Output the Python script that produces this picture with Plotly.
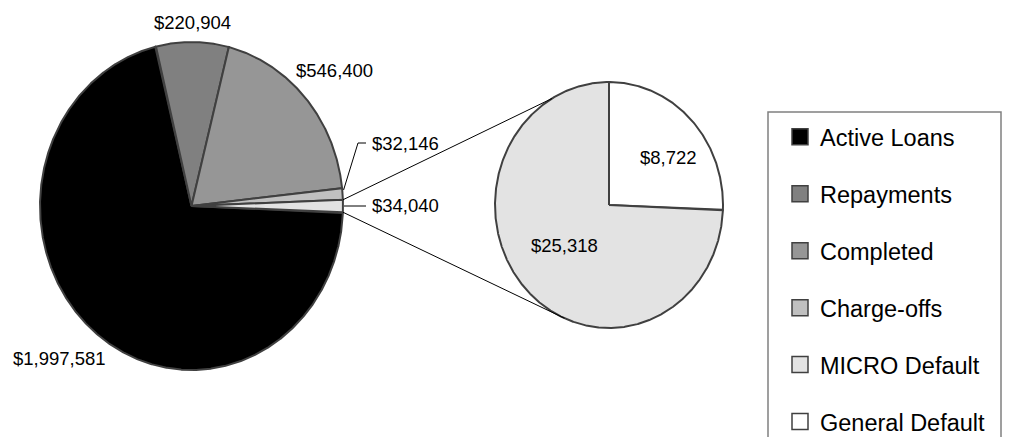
import numpy as np
import plotly.graph_objects as go

# ---------------- data ----------------
main_labels = ["Active Loans", "Repayments", "Completed", "Charge-offs", "Other"]
main_values = [1997581, 220904, 546400, 32146]
sub_labels = ["General Default", "MICRO Default"]
sub_values = [8722, 25318]
legend_labels = ["Active Loans", "Repayments", "Completed", "Charge-offs",
                 "MICRO Default", "General Default"]

main_values = main_values + [sum(sub_values)]   # "Other" slice = second pie total

# ---------------- styles / layout ----------------
W, H = 1011, 445                    # window size
OFF = 8                             # default page (body) margin of the written html
FW, FH = W - 2 * OFF, H - 2 * OFF   # figure size so the page does not overflow
colors = {
    "Active Loans": "#000000",
    "Repayments": "#808080",
    "Completed": "#969696",
    "Charge-offs": "#C0C0C0",
    "Other": "#E3E3E3",
    "MICRO Default": "#E3E3E3",
    "General Default": "#FFFFFF",
}
EDGE = "#404040"
FONT = "Liberation Sans, Arial, sans-serif"

MAIN = dict(cx=191.5, cy=206.0, rx=151.5, ry=164.0)
SUB = dict(cx=609.0, cy=205.0, rx=114.0, ry=123.0)

# label anchor positions (window pixels) per slice
label_pos = {
    "Active Loans": (59.5, 358, "center"),
    "Repayments": (192, 22, "center"),
    "Completed": (334, 70, "center"),
    "Charge-offs": (370, 143, "left"),
    "Other": (370, 205, "left"),
    "General Default": (668, 157, "center"),
    "MICRO Default": (564, 245, "center"),
}


def pt(p, ang, f=1.0):
    a = np.radians(ang)
    return p["cx"] + f * p["rx"] * np.sin(a), p["cy"] - f * p["ry"] * np.cos(a)


def wedge(p, a0, a1):
    n = max(int(abs(a1 - a0) * 4), 8)
    angs = np.linspace(a0, a1, n)
    xs, ys = pt(p, angs)
    xs = np.concatenate([[p["cx"]], xs, [p["cx"]]])
    ys = np.concatenate([[p["cy"]], ys, [p["cy"]]])
    return xs, ys


def spans(values, start):
    tot = float(sum(values))
    out, a = [], start
    for v in values:
        s = 360.0 * v / tot
        out.append((a, a + s))
        a += s
    return out


fig = go.Figure()

# main pie: "Other" slice centred on 3 o'clock
tot_main = float(sum(main_values))
other_span = 360.0 * main_values[-1] / tot_main
main_spans = spans(main_values, 90.0 + other_span / 2.0)
sub_spans = spans(sub_values, 0.0)

for lab, val, (a0, a1) in zip(main_labels, main_values, main_spans):
    xs, ys = wedge(MAIN, a0, a1)
    fig.add_trace(go.Scatter(
        x=xs, y=ys, mode="lines", fill="toself", fillcolor=colors[lab],
        line=dict(color=EDGE, width=2), showlegend=False,
        legendgroup=lab if lab != "Other" else None,
        hoverinfo="text", text=f"{lab}: ${val:,}", hoveron="fills"))

for lab, val, (a0, a1) in zip(sub_labels, sub_values, sub_spans):
    xs, ys = wedge(SUB, a0, a1)
    fig.add_trace(go.Scatter(
        x=xs, y=ys, mode="lines", fill="toself", fillcolor=colors[lab],
        line=dict(color=EDGE, width=2), showlegend=False, legendgroup=lab,
        hoverinfo="text", text=f"{lab}: ${val:,}", hoveron="fills"))

# connector lines between the "Other" slice and the second pie
oa0, oa1 = main_spans[-1]
p_up = pt(MAIN, oa0)
p_dn = pt(MAIN, oa1)
q_up = pt(SUB, 330.0)
q_dn = pt(SUB, 203.0)
for (x0, y0), (x1, y1) in [(p_up, q_up), (p_dn, q_dn)]:
    fig.add_trace(go.Scatter(x=[x0, x1], y=[y0, y1], mode="lines",
                             line=dict(color="black", width=1),
                             showlegend=False, hoverinfo="skip"))

# leader lines for the two thin slices
ca0, ca1 = main_spans[3]
cx0, cy0 = pt(MAIN, (ca0 + ca1) / 2)
fig.add_trace(go.Scatter(x=[cx0 + 1, 358, 366], y=[cy0 - 4, 143, 143], mode="lines",
                         line=dict(color="black", width=1), showlegend=False,
                         hoverinfo="skip"))
ox0, oy0 = pt(MAIN, (oa0 + oa1) / 2)
fig.add_trace(go.Scatter(x=[ox0 + 1, 366], y=[oy0, oy0], mode="lines",
                         line=dict(color="black", width=1), showlegend=False,
                         hoverinfo="skip"))

# legend entries
for lab in legend_labels:
    fig.add_trace(go.Scatter(
        x=[None], y=[None], mode="markers", name=lab, legendgroup=lab,
        marker=dict(symbol="square", size=16, color=colors[lab],
                    line=dict(color=EDGE, width=1.5))))

# value labels
annotations = []
for lab, val in list(zip(main_labels, main_values)) + list(zip(sub_labels, sub_values)):
    x, y, anc = label_pos[lab]
    annotations.append(dict(x=x, y=y, xref="x", yref="y", text=f"${val:,}",
                            showarrow=False, xanchor=anc, yanchor="middle",
                            font=dict(family=FONT, size=18.5, color="black")))

fig.update_layout(
    width=FW, height=FH,
    margin=dict(l=0, r=0, t=0, b=0, autoexpand=False),
    paper_bgcolor="white", plot_bgcolor="white",
    xaxis=dict(range=[OFF, W - OFF], visible=False, fixedrange=True),
    yaxis=dict(range=[H - OFF, OFF], visible=False, fixedrange=True),
    annotations=annotations,
    shapes=[dict(type="rect", xref="x", yref="y", x0=768, y0=112, x1=1001, y1=460,
                 line=dict(color="#808080", width=1.5), fillcolor="rgba(0,0,0,0)",
                 layer="below")],
    legend=dict(x=(780 - OFF) / FW, y=1 - (115 - OFF) / FH, xanchor="left", yanchor="top",
                bgcolor="rgba(0,0,0,0)", borderwidth=0,
                font=dict(family=FONT, size=23.5, color="black"),
                traceorder="grouped", tracegroupgap=23.4,
                itemclick=False, itemdoubleclick=False),
    hovermode="closest",
    showlegend=True,
)

fig.write_html("out.html")
